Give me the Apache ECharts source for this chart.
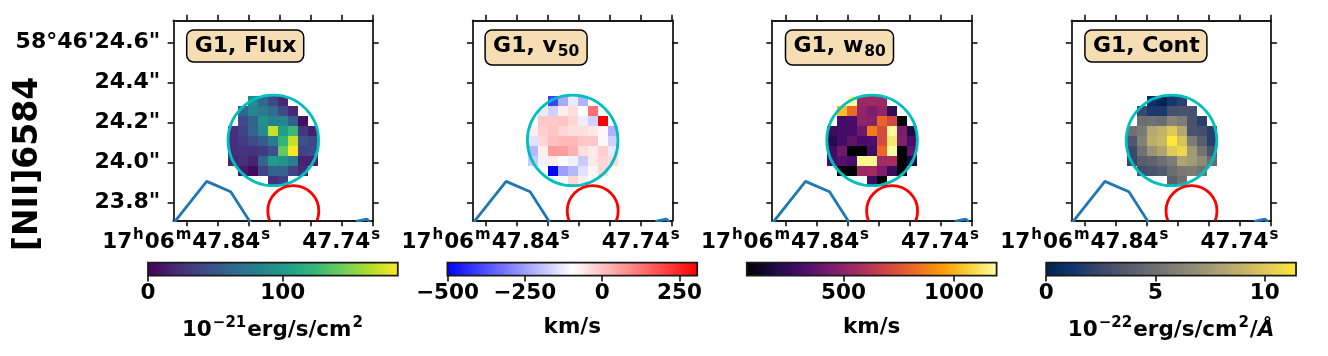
<!DOCTYPE html>
<html><head><meta charset="utf-8">
<style>html,body{margin:0;padding:0;background:#fff}#c{width:1328px;height:356px}</style>
<script src="https://cdn.jsdelivr.net/npm/echarts@6/dist/echarts.min.js"></script>
</head><body><div id="c"></div>
<script>
const panelNames = ['{m|G1, Flux}', '{m|G1, v}{s|50}', '{m|G1, w}{s|80}', '{m|G1, Cont}'];
const rowLabel = '[NII]6584';
const decTicks = [23.8, 24.0, 24.2, 24.4, 24.6];
const decTickLabels = ['23.8"', '24.0"', '24.2"', '24.4"', '58°46\'24.6"'];
const raTicks = [47.84, 47.82, 47.80, 47.78, 47.76, 47.74, 47.72];
const raLabelTicks = [47.84, 47.74];
const raTickLabels = ['{n|17}{u|h}{n|06}{u|m}{n|47.84}{u|s}', '{n|47.74}{u|s}'];

const flux = [
 [null,null,90,62,40,20,null,null,null],
 [null,62,85,78,65,42,20,null,null],
 [null,42,58,95,82,85,55,8,null],
 [25,38,60,88,170,105,125,30,15],
 [25,33,42,55,78,120,170,48,40],
 [25,28,28,32,45,140,185,38,42],
 [20,25,18,60,100,95,80,18,18],
 [null,14,5,38,58,58,38,22,null],
 [null,null,null,null,25,35,null,null,null]];
const v50 = [
 [null,null,-400,-234,-130,-220,null,null,null],
 [null,-130,-170,-70,-45,-96,130,null,null],
 [null,-8,-8,-3,-30,-125,-170,307,null],
 [-70,-20,-5,-30,-45,-45,-60,-85,-220],
 [-145,-30,5,15,15,-8,-8,-85,-170],
 [-210,-70,60,60,25,-45,-65,-20,-130],
 [-180,-120,-65,-105,-120,-180,-60,-30,-35],
 [null,-90,-500,-250,-210,-145,-80,-30,null],
 [null,null,null,null,-30,-70,null,null,null]];
const w80 = [
 [null,null,1190,530,540,530,null,null,null],
 [null,1020,820,510,450,510,250,null,null],
 [null,300,310,500,490,800,700,62,null],
 [270,300,310,410,860,720,1180,450,200],
 [220,300,380,310,320,720,1130,460,310],
 [290,410,62,62,290,810,1190,62,380],
 [310,350,310,1170,1170,550,570,62,180],
 [null,62,62,530,550,450,270,62,null],
 [null,null,null,null,285,62,null,null,null]];
const cont = [
 [null,null,0.9,0.2,1.4,2.0,null,null,null],
 [null,2.5,1.5,1.5,3.0,3.2,3.1,null,null],
 [null,4.9,5.1,4.8,6.3,5.7,3.2,1.95,null],
 [5.0,5.6,8.3,8.9,10.0,8.3,3.2,2.9,1.9],
 [3.4,6.0,8.6,9.2,11.43,9.7,5.7,3.8,1.9],
 [2.5,5.0,7.1,8.0,10.0,10.7,7.5,5.2,3.1],
 [2.5,3.8,4.1,4.9,5.7,8.0,7.5,6.6,4.8],
 [null,2.9,3.2,3.6,4.8,5.5,5.7,5.2,null],
 [null,null,null,null,4.0,5.1,null,null,null]];
const panelValues = [flux, v50, w80, cont];

const viridis = ['#440154','#482878','#3e4989','#31688e','#26828e','#1f9e89','#35b779','#6ece58','#b5de2b','#fde725'];
const bwr = ['#0000ff','#ffffff','#ff0000'];
const inferno = ['#000004','#1b0c41','#4a0c6b','#781c6d','#a52c60','#cf4446','#ed6925','#fb9b06','#f7d13d','#fcffa4'];
const cividis = ['#00224e','#123570','#3b496c','#575d6d','#707173','#8a8678','#a59c74','#c3b369','#e1cc55','#fee838'];
const panelMaps = [viridis, bwr, inferno, cividis];

const barMin = [0, -500, 62, 0];
const barMax = [185.5, 307, 1193, 11.43];
const barTicks = [[0,100], [-500,-250,0,250], [500,1000], [0,5,10]];
const barNames = [
 '{n|10}{u|−21}{n|erg/s/cm}{u|2}', '{n|km/s}', '{n|km/s}',
 '{n|10}{u|−22}{n|erg/s/cm}{u|2}{n|/}{i|Å}'];
const barNameGaps = [40, 37, 37, 40];

const cellRaStart = 47.81316, cellRaStep = 0.00645161, cellDecStart = 24.3345, cellDecStep = 0.05;
const raRange = [47.71981, 47.84865], decRange = [23.711, 24.711];
const contourA = [[47.84948,23.688],[47.82710,23.9065],[47.81161,23.8545],[47.79781,23.688]];
const contourB = [[47.73077,23.7065],[47.72387,23.718],[47.72174,23.7055]];
const cyanCircle = [[47.78413,24.1115,0.2265]];
const redCircle = [[47.77123,23.758,0.1275]];

const FONT = 'DejaVu Sans', FS = 21.5, INK = '#1a1a1a';
const txt = (size, extra) => Object.assign({fontFamily: FONT, fontWeight: 'bold', fontSize: size, color: '#000'}, extra || {});
const tickRich = {
  n: txt(FS, {lineHeight: 26, verticalAlign: 'bottom'}),
  u: txt(15, {lineHeight: 26, verticalAlign: 'top', padding: [0, 1, 0, 1]}),
  i: txt(FS, {lineHeight: 26, verticalAlign: 'bottom', fontStyle: 'italic'})
};

const STEP = 299.4;
const grids = [], xAxes = [], yAxes = [], series = [], visualMaps = [], titles = [];
const lineStyle = {color: INK, width: 1.8};
const tickStyle = {length: 5.7, lineStyle: {color: '#000', width: 1.5}};

function circleSeries(xi, yi, data, color) {
  return {type: 'custom', xAxisIndex: xi, yAxisIndex: yi, clip: true, z: 5, silent: true, data,
    renderItem(p, api) {
      const c = api.coord([api.value(0), api.value(1)]);
      return {type: 'circle', shape: {cx: c[0], cy: c[1], r: api.size([0, api.value(2)])[1]},
        style: {fill: 'none', stroke: color, lineWidth: 2.8}};
    }};
}

for (let i = 0; i < 4; i++) {
  const gi = grids.length;
  grids.push({left: 173.3 + STEP * i, top: 20.5, width: 199.7, height: 200});
  const xi = xAxes.length, yi = yAxes.length;
  ['bottom','top'].forEach((pos, k) => xAxes.push({
    type: 'value', gridIndex: gi, position: pos, inverse: true, min: raRange[0], max: raRange[1],
    splitLine: {show: false}, axisLine: {show: true, onZero: false, lineStyle},
    axisTick: Object.assign({show: true, customValues: raTicks}, tickStyle),
    axisLabel: k ? {show: false} : {show: true, customValues: raLabelTicks, margin: 7,
      formatter: v => raTickLabels[raLabelTicks.indexOf(v)], rich: tickRich}
  }));
  ['left','right'].forEach((pos, k) => yAxes.push({
    type: 'value', gridIndex: gi, position: pos, min: decRange[0], max: decRange[1],
    splitLine: {show: false}, axisLine: {show: true, onZero: false, lineStyle},
    axisTick: Object.assign({show: true, customValues: decTicks}, tickStyle),
    axisLabel: (k || i) ? {show: false} : {show: true, customValues: decTicks, margin: 13, padding: [2, 0, 0, 0],
      formatter: v => decTickLabels[decTicks.indexOf(v)], fontFamily: FONT, fontWeight: 'bold', fontSize: 22, color: '#000'}
  }));

  const cells = [];
  panelValues[i].forEach((row, r) => row.forEach((v, c) => {
    if (v !== null) cells.push([cellRaStart - c * cellRaStep, cellDecStart - r * cellDecStep, v]);
  }));
  visualMaps.push({show: false, type: 'continuous', seriesIndex: series.length, dimension: 2,
    min: barMin[i], max: barMax[i], inRange: {color: panelMaps[i]}});
  series.push({type: 'custom', xAxisIndex: xi, yAxisIndex: yi, clip: true, z: 2, silent: true, data: cells,
    encode: {x: 0, y: 1},
    renderItem(p, api) {
      const a = api.coord([api.value(0), api.value(1)]);
      const b = api.coord([api.value(0) - cellRaStep, api.value(1) - cellDecStep]);
      const x0 = Math.round(a[0]), y0 = Math.round(a[1]);
      return {type: 'rect', shape: {x: x0, y: y0, width: Math.round(b[0]) - x0, height: Math.round(b[1]) - y0},
        style: {fill: api.visual('color')}};
    }});
  series.push(circleSeries(xi, yi, cyanCircle, '#00bfbf'));
  series.push(circleSeries(xi, yi, redCircle, '#ff0000'));
  [contourA, contourB].forEach(d => series.push({type: 'line', xAxisIndex: xi, yAxisIndex: yi, data: d, clip: true,
    showSymbol: false, symbol: 'none', silent: true, z: 4, lineStyle: {color: '#1f77b4', width: 2.8}, animation: false}));

  titles.push({left: 186.7 + STEP * i - (i === 1 ? 1 : 0), top: 27, text: panelNames[i], padding: [5, 7, 5, 8],
    backgroundColor: '#f5deb3', borderColor: '#000', borderWidth: 1.5, borderRadius: 7,
    textStyle: {rich: {m: txt(22, {lineHeight: 25, verticalAlign: 'bottom'}), s: txt(15.5, {lineHeight: 25, verticalAlign: 'bottom', padding: [0,1,-3,1]})}}});
}

for (let i = 0; i < 4; i++) {
  const gi = grids.length;
  grids.push({left: 148 + STEP * i, top: 262.7, width: 249.8, height: 13});
  const xi = xAxes.length, yi = yAxes.length;
  xAxes.push({type: 'value', gridIndex: gi, position: 'bottom', min: barMin[i], max: barMax[i],
    splitLine: {show: false}, axisLine: {show: false},
    axisTick: Object.assign({show: true, customValues: barTicks[i]}, tickStyle),
    axisLabel: {show: true, customValues: barTicks[i], margin: 7,
      formatter: v => String(v).replace('-', '−'), fontFamily: FONT, fontWeight: 'bold', fontSize: FS, color: '#000'},
    name: barNames[i], nameLocation: 'middle', nameGap: barNameGaps[i],
    nameTextStyle: {rich: tickRich}
  });
  yAxes.push({type: 'value', gridIndex: gi, min: 0, max: 1, show: false});
  const stops = panelMaps[i].map((c, k, arr) => ({offset: k / (arr.length - 1), color: c}));
  series.push({type: 'custom', xAxisIndex: xi, yAxisIndex: yi, silent: true, z: 3, data: [[barMin[i], barMax[i]]],
    encode: {x: [0, 1]},
    renderItem(p, api) {
      const a = api.coord([api.value(0), 1]), b = api.coord([api.value(1), 0]);
      return {type: 'rect', shape: {x: a[0], y: a[1], width: b[0] - a[0], height: b[1] - a[1]},
        style: {fill: new echarts.graphic.LinearGradient(0, 0, 1, 0, stops), stroke: INK, lineWidth: 1.8}};
    }});
}

const chart = echarts.init(document.getElementById('c'), null, {renderer: 'canvas', width: 1328, height: 356});
chart.setOption({
  animation: false, backgroundColor: '#fff',
  grid: grids, xAxis: xAxes, yAxis: yAxes, series, visualMap: visualMaps, title: titles,
  graphic: [{type: 'text', x: 28, y: 164, rotation: Math.PI / 2, silent: true,
    style: {text: rowLabel, font: 'bold 33px "DejaVu Sans"', fill: '#000', align: 'center', verticalAlign: 'middle'}}]
});
</script></body></html>
